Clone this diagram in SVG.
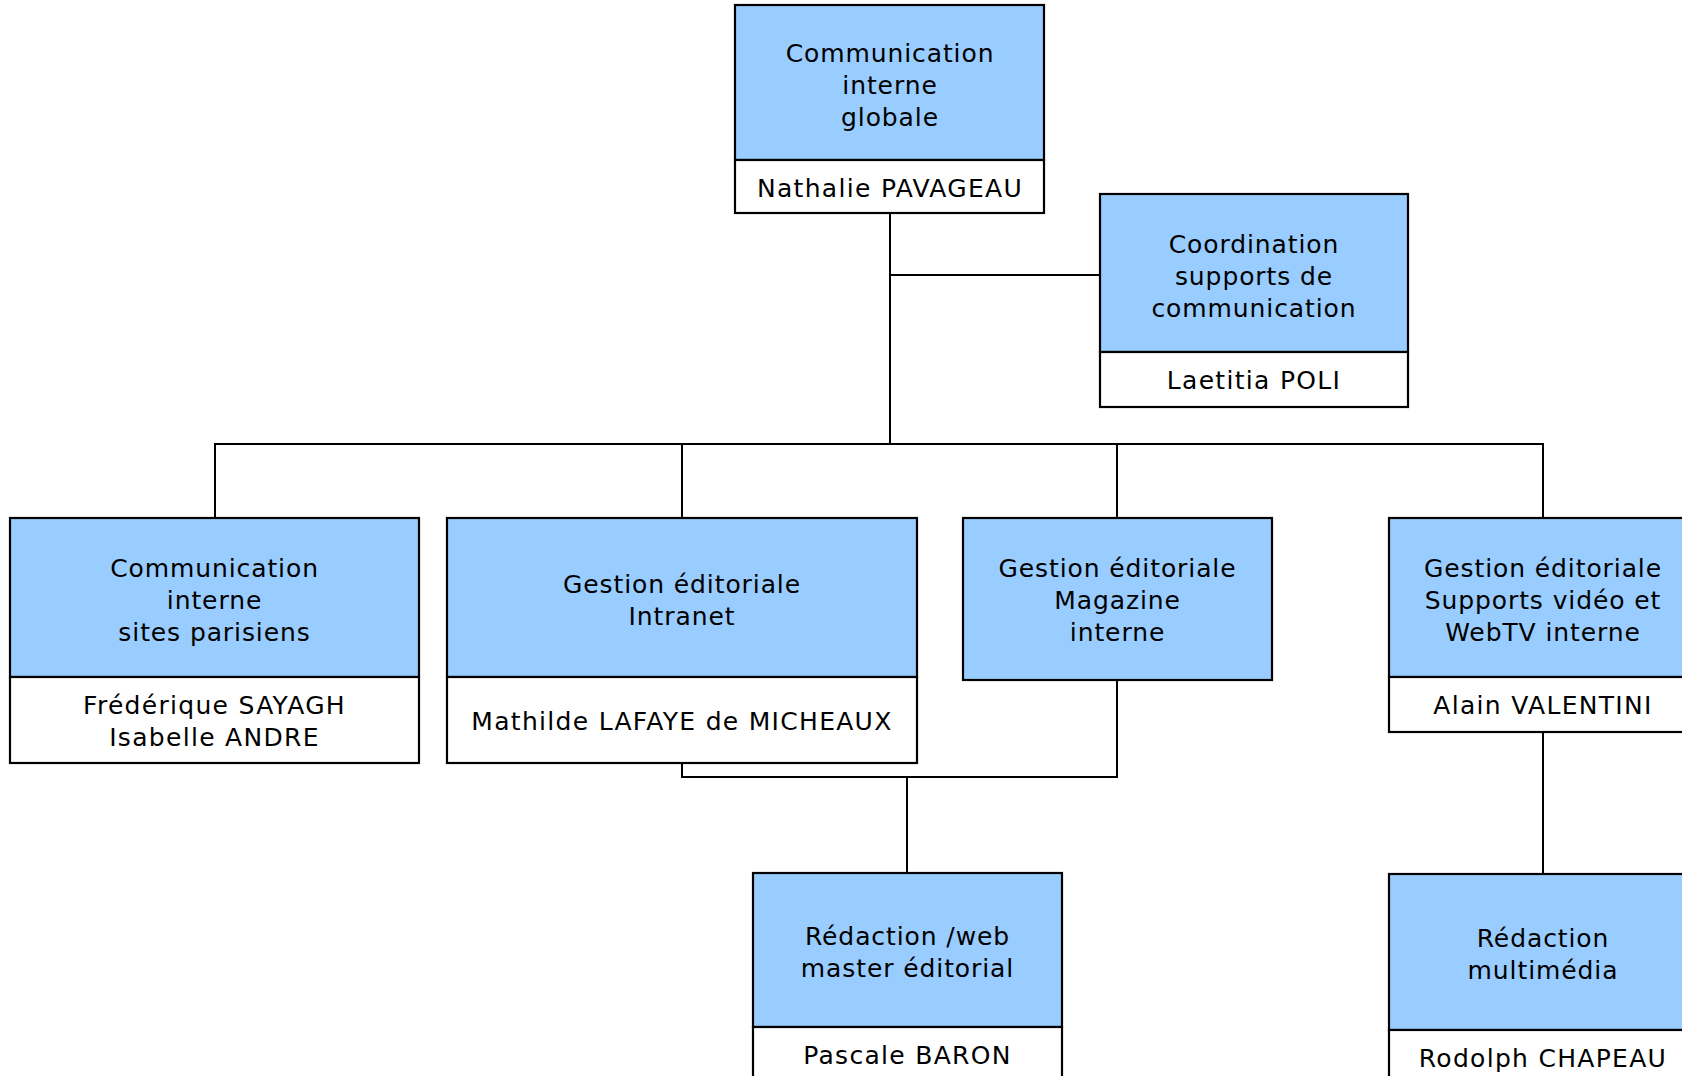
<svg xmlns="http://www.w3.org/2000/svg" width="1682" height="1076" viewBox="0 0 1682 1076">
<style>
.b{fill:#99CCFF;stroke:#000;stroke-width:2.2}
.w{fill:#fff;stroke:#000;stroke-width:2.2}
.c{fill:none;stroke:#000;stroke-width:2}
text{font-family:"DejaVu Sans",Verdana,sans-serif;font-size:25px;letter-spacing:0.9px;text-anchor:middle;fill:#000}
.n{letter-spacing:1.3px}
</style>
<rect width="1682" height="1076" fill="#fff"/>
<g id="connectors">
<path class="c" d="M890,213V444M890,275H1100M215,518V444H1543V518M682,444V518M1117,444V518"/>
<path class="c" d="M682,763V777H1117V680M907,777V873M1543,732V874"/>
</g>
<g id="n-top">
<rect class="b" x="735" y="5" width="309" height="155"/>
<rect class="w" x="735" y="160" width="309" height="53"/>
<text x="890" y="62">Communication</text>
<text x="890" y="94">interne</text>
<text x="890" y="126">globale</text>
<text class="n" x="890" y="197">Nathalie PAVAGEAU</text>
</g>
<g id="n-coord">
<rect class="b" x="1100" y="194" width="308" height="158"/>
<rect class="w" x="1100" y="352" width="308" height="55"/>
<text x="1254" y="253">Coordination</text>
<text x="1254" y="285">supports de</text>
<text x="1254" y="317">communication</text>
<text class="n" x="1254" y="389">Laetitia POLI</text>
</g>
<g id="n-sites">
<rect class="b" x="10" y="518" width="409" height="159"/>
<rect class="w" x="10" y="677" width="409" height="86"/>
<text x="214.5" y="577">Communication</text>
<text x="214.5" y="609">interne</text>
<text x="214.5" y="641">sites parisiens</text>
<text class="n" x="214.5" y="714">Frédérique SAYAGH</text>
<text class="n" x="214.5" y="746">Isabelle ANDRE</text>
</g>
<g id="n-intranet">
<rect class="b" x="447" y="518" width="470" height="159"/>
<rect class="w" x="447" y="677" width="470" height="86"/>
<text x="682" y="593">Gestion éditoriale</text>
<text x="682" y="625">Intranet</text>
<text class="n" x="682" y="730">Mathilde LAFAYE de MICHEAUX</text>
</g>
<g id="n-magazine">
<rect class="b" x="963" y="518" width="309" height="162"/>
<text x="1117.5" y="577">Gestion éditoriale</text>
<text x="1117.5" y="609">Magazine</text>
<text x="1117.5" y="641">interne</text>
</g>
<g id="n-webtv">
<rect class="b" x="1389" y="518" width="308" height="159"/>
<rect class="w" x="1389" y="677" width="308" height="55"/>
<text x="1543" y="577">Gestion éditoriale</text>
<text x="1543" y="609">Supports vidéo et</text>
<text x="1543" y="641">WebTV interne</text>
<text class="n" x="1543" y="714">Alain VALENTINI</text>
</g>
<g id="n-redaction-web">
<rect class="b" x="753" y="873" width="309" height="154"/>
<rect class="w" x="753" y="1027" width="309" height="70"/>
<text x="907.5" y="945">Rédaction /web</text>
<text x="907.5" y="977">master éditorial</text>
<text class="n" x="907.5" y="1064">Pascale BARON</text>
</g>
<g id="n-multimedia">
<rect class="b" x="1389" y="874" width="308" height="156"/>
<rect class="w" x="1389" y="1030" width="308" height="70"/>
<text x="1543" y="947">Rédaction</text>
<text x="1543" y="979">multimédia</text>
<text class="n" x="1543" y="1067">Rodolph CHAPEAU</text>
</g>
</svg>
